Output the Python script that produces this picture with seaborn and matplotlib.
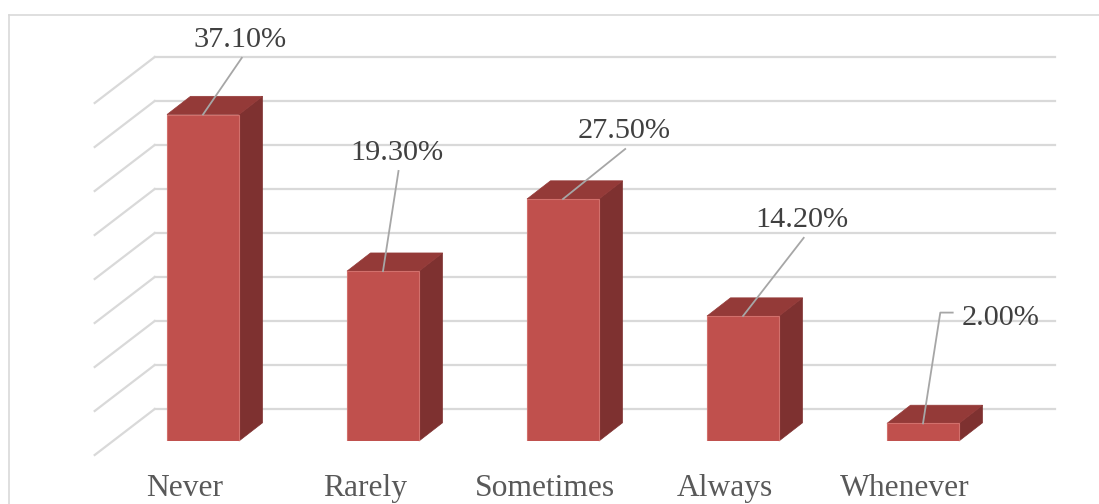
import matplotlib
matplotlib.use("Agg")
import matplotlib.pyplot as plt
from matplotlib.lines import Line2D
from matplotlib.patches import Polygon
import numpy as np
import pandas as pd
import seaborn as sns

# ---- data ----
categories = ["Never", "Rarely", "Sometimes", "Always", "Whenever"]
values = [37.1, 19.3, 27.5, 14.2, 2.0]
grid_ticks = [0, 5, 10, 15, 20, 25, 30, 35, 40]

# ---- layout / style (pixels) ----
W, H = 1099, 504
FRONT_COL = "#C0504D"
SIDE_COL = "#7E3130"
TOP_COL = "#943A38"
GRID_COL = "#D9D9D9"
LEADER_COL = "#A6A6A6"
BAR_DEPTH = (23.5, 18.2)    # bar depth projection
BACK = (41.7, 32.0)         # back wall offset from bar front plane
FRONT = (-18.3, -14.0)      # floor front edge offset
label_offsets = [(37.3, 67.2), (14.0, 110.7), (60.7, 60.5), (59.2, 88.7), (78.0, 98.5)]
elbow = [False, False, False, False, True]

fig = plt.figure(figsize=(W / 100, H / 100), dpi=100)
ax = fig.add_axes([113 / W, (H - 441) / H, 900 / W, 352 / H])

df = pd.DataFrame({"cat": categories, "val": values})
sns.barplot(data=df, x="cat", y="val", width=0.4, color=FRONT_COL, saturation=1,
            edgecolor="#D2706C", linewidth=0.8, ax=ax, zorder=5)
ax.set_xlim(-0.5, len(categories) - 0.5)
ax.set_ylim(0, max(grid_ticks))
ax.axis("off")

fig.canvas.draw()
tD = ax.transData
inv = tD.inverted()


def pt(x, y, off=(0, 0)):
    px, py = tD.transform((x, y))
    return inv.transform((px + off[0], py + off[1]))


# back wall grid lines and left wall diagonals
x0, x1 = -0.5, len(categories) - 0.5
for g in grid_ticks:
    a = pt(x0, g, BACK)
    b = pt(x1, g, BACK)
    c = pt(x0, g, FRONT)
    ax.add_line(Line2D([a[0], b[0]], [a[1], b[1]], color=GRID_COL, lw=1.6,
                       zorder=1, clip_on=False))
    ax.add_line(Line2D([a[0], c[0]], [a[1], c[1]], color=GRID_COL, lw=1.6,
                       zorder=1, clip_on=False))

# 3D faces of the bars
for bar in ax.patches[:len(categories)]:
    bx = bar.get_x()
    bw = bar.get_width()
    v = bar.get_height()
    side = [pt(bx + bw, 0), pt(bx + bw, v), pt(bx + bw, v, BAR_DEPTH), pt(bx + bw, 0, BAR_DEPTH)]
    top = [pt(bx, v), pt(bx + bw, v), pt(bx + bw, v, BAR_DEPTH), pt(bx, v, BAR_DEPTH)]
    ax.add_patch(Polygon(side, closed=True, facecolor=SIDE_COL, edgecolor=SIDE_COL,
                         lw=0.5, zorder=3, clip_on=False))
    ax.add_patch(Polygon(top, closed=True, facecolor=TOP_COL, edgecolor=TOP_COL,
                         lw=0.5, zorder=3, clip_on=False))

# data labels with leader lines
for i, (v, (dx, dy)) in enumerate(zip(values, label_offsets)):
    ax.annotate(f"{v:.2f}%", (i, v), xytext=(dx, dy), textcoords="offset pixels",
                ha="center", va="baseline", fontsize=21.8, color="#404040",
                family="Liberation Serif", zorder=8, annotation_clip=False)
    start = pt(i, v)
    if elbow[i]:
        m = pt(i, v, (17.3, 110.8))
        e = pt(i, v, (29.7, 110.8))
        xs, ys = [start[0], m[0], e[0]], [start[1], m[1], e[1]]
    else:
        e = pt(i, v, (dx + 1.5, dy - 10.5))
        xs, ys = [start[0], e[0]], [start[1], e[1]]
    ax.add_line(Line2D(xs, ys, color=LEADER_COL, lw=1.3, zorder=7, clip_on=False))

# category labels along the floor front edge
for i, c in enumerate(categories):
    ax.annotate(c, (i, 0), xytext=(FRONT[0], -55), textcoords="offset pixels",
                ha="center", va="baseline", fontsize=22.7, color="#595959",
                family="Liberation Serif", annotation_clip=False)

# chart area border (top and left visible)
fig.add_artist(Line2D([9 / W, 1.0], [1 - 15 / H, 1 - 15 / H], color=GRID_COL, lw=1.2,
                      transform=fig.transFigure))
fig.add_artist(Line2D([9 / W, 9 / W], [0, 1 - 15 / H], color=GRID_COL, lw=1.2,
                      transform=fig.transFigure))

fig.savefig("out.png", dpi=100)
